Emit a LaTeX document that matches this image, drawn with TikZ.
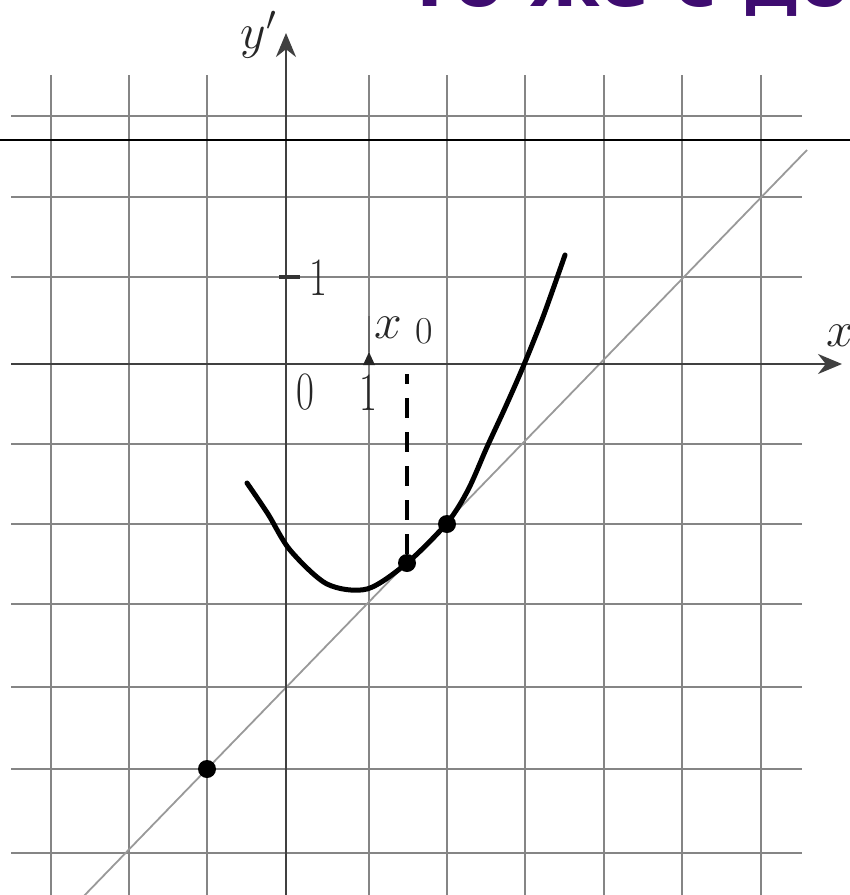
\documentclass[tikz,border=0pt]{standalone}
\usepackage{fontspec}
\newfontfamily\titlefont{DejaVu Sans}
\usetikzlibrary{arrows.meta}
\definecolor{gridc}{gray}{0.52}
\definecolor{tangc}{gray}{0.6}
\definecolor{titlec}{RGB}{62,12,112}
\begin{document}
\begin{tikzpicture}[x=0.5pt,y=-0.5pt,
  gridline/.style={gridc, line width=1pt},
  axisline/.style={black!75, line width=1.2pt, -{Stealth[length=12pt,width=10pt]}},
  tangent/.style={tangc, line width=0.9pt},
  curveline/.style={black, line width=2.5pt, line join=round, line cap=round},
  dot/.style={circle, fill=black, inner sep=0pt, minimum size=9pt},
  dashline/.style={black, line width=2.4pt, dash pattern=on 10pt off 7pt},
  digit/.style={inner sep=0pt, font=\fontsize{27pt}{30pt}\selectfont, text=black!85},
  varlbl/.style={inner sep=0pt, font=\fontsize{24pt}{28pt}\selectfont, text=black!85},
  titlelbl/.style={inner sep=0pt, text=titlec, font=\titlefont\bfseries\fontsize{36pt}{40pt}\selectfont}]
\useasboundingbox (0,0) rectangle (850,895);
% grid
\foreach \x in {51,129,207,369,447,525,604,682,761}
  \draw[gridline] (\x,75) -- (\x,900);
\foreach \y in {116,197,277,444,524,604,687,769,853}
  \draw[gridline] (11,\y) -- (802,\y);
% tangent line
\coordinate (tA) at (80,900);
\coordinate (tB) at (807,150);
\draw[tangent] (tA) -- (tB);
% axes
\coordinate (yS) at (286,900);
\coordinate (yE) at (286,33);
\coordinate (xS) at (11,364);
\coordinate (xE) at (842,364);
\draw[axisline] (yS) -- (yE);
\draw[axisline] (xS) -- (xE);
% black rule
\coordinate (rA) at (0,140);
\coordinate (rB) at (850,140);
\draw[black, line width=1.4pt] (rA) -- (rB);
% ticks
\draw[black!80, line width=1.6pt] (279,277) -- (300,277);
\fill[black!85] (363,365) -- (369,352) -- (375,365) -- cycle;
\draw[black!60, line width=0.6pt] (369,316) -- (369,352);
% curve
\draw[curveline] plot[smooth, tension=0.5] coordinates {
  (247,483) (268,514) (290,550) (327,584) (367,589) (407,563)
  (447,523) (468,490) (487,447) (505,408) (523,367) (543,317) (565,255)};
% dots
\node[dot] (d1) at (207,769) {};
\node[dot] (d2) at (407,563) {};
\node[dot] (d3) at (447,524) {};
% dashed
\coordinate (xt) at (407,374);
\draw[dashline] (d2) -- (xt);
% labels
\node[digit] (ly1) at (318,278) {\scalebox{0.72}[1]{1}};
\node[digit] (l0) at (305,392) {\scalebox{0.72}[1]{0}};
\node[digit] (lx1) at (368,393) {\scalebox{0.72}[1]{1}};
\node[varlbl] (lx0) at (388,328) {$x$};
\node[inner sep=0pt, font=\fontsize{19pt}{22pt}\selectfont, text=black!85] (lx0s) at (424,331) {0};
\node[varlbl] (ly) at (259,35) {$y'$};
\node[varlbl] (lxax) at (840,336) {$x$};
% title
\node[titlelbl, anchor=base west] (title) at (405,6) {То же с дос};
\end{tikzpicture}
\end{document}
